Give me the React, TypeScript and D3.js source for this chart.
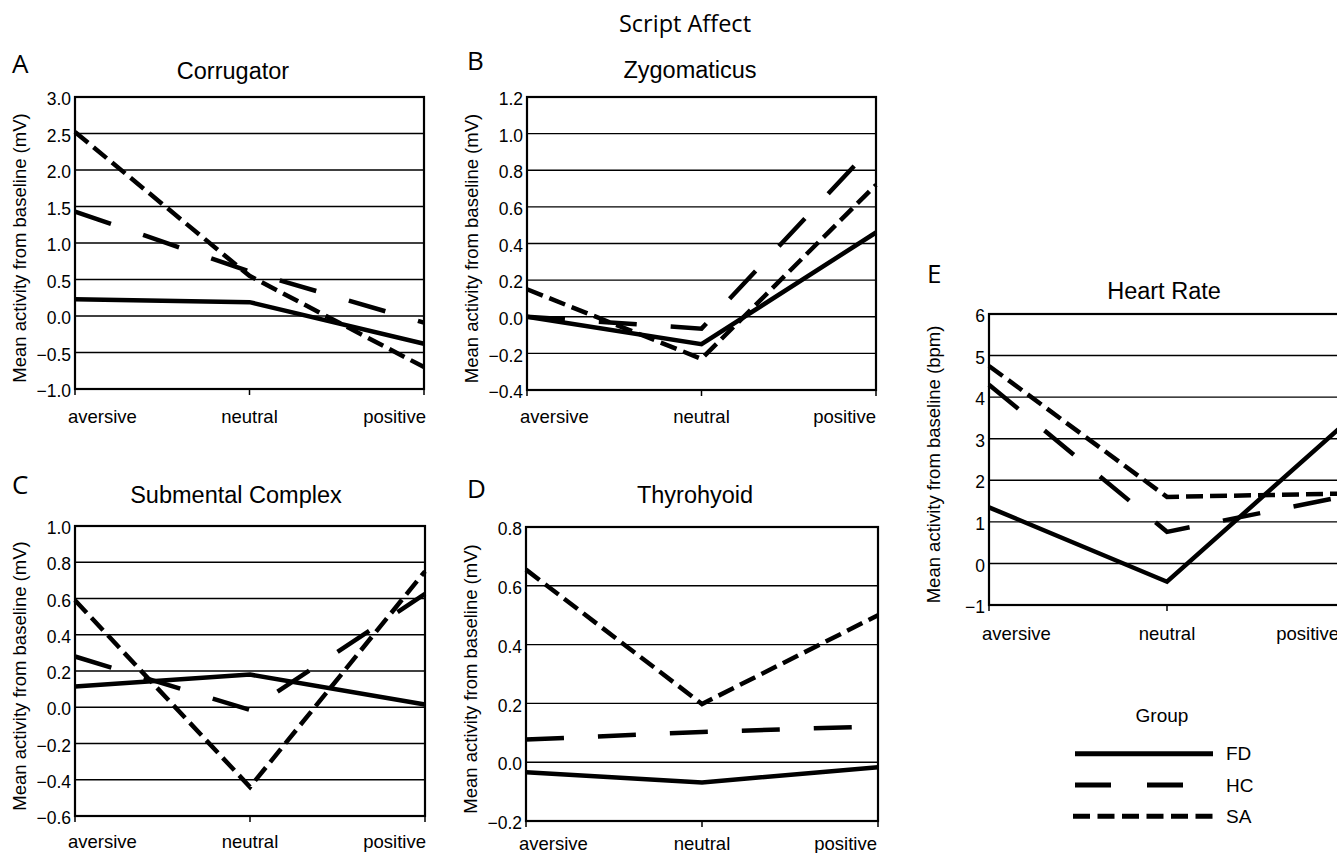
import React from 'react';
import * as d3 from 'd3';

const W = 1337;
const H = 853;

const categories = ['aversive', 'neutral', 'positive'];
const groups = ['FD', 'HC', 'SA'];

// Corrugator (mV)
const corrugatorFD = [0.23, 0.19, -0.38];
const corrugatorHC = [1.43, 0.61, -0.09];
const corrugatorSA = [2.52, 0.55, -0.7];
const corrugatorTicks = [-1, -0.5, 0, 0.5, 1, 1.5, 2, 2.5, 3];

// Zygomaticus (mV)
const zygomaticusFD = [0.0, -0.15, 0.46];
const zygomaticusHC = [0.0, -0.065, 0.95];
const zygomaticusSA = [0.15, -0.23, 0.72];
const zygomaticusTicks = [-0.4, -0.2, 0, 0.2, 0.4, 0.6, 0.8, 1.0, 1.2];

// Submental Complex (mV)
const submentalFD = [0.115, 0.18, 0.015];
const submentalHC = [0.28, -0.015, 0.625];
const submentalSA = [0.59, -0.44, 0.75];
const submentalTicks = [-0.6, -0.4, -0.2, 0, 0.2, 0.4, 0.6, 0.8, 1.0];

// Thyrohyoid (mV)
const thyrohyoidFD = [-0.034, -0.069, -0.017];
const thyrohyoidHC = [0.077, 0.103, 0.122];
const thyrohyoidSA = [0.655, 0.198, 0.5];
const thyrohyoidTicks = [-0.2, 0, 0.2, 0.4, 0.6, 0.8];

// Heart Rate (bpm)
const heartFD = [1.35, -0.44, 3.37];
const heartHC = [4.3, 0.76, 1.62];
const heartSA = [4.75, 1.6, 1.68];
const heartTicks = [-1, 0, 1, 2, 3, 4, 5, 6];

const dash: Record<string, string> = {
  FD: 'none',
  HC: '38,34',
  SA: '17,7',
};

const sansFont = '"Liberation Sans", Arial, sans-serif';
const letterFont = '"Open Sans", sans-serif';

const panels = [
  {
    letter: 'A', title: 'Corrugator', unit: 'mV', fmt: '.1f',
    series: [corrugatorFD, corrugatorHC, corrugatorSA], ticks: corrugatorTicks,
    left: 75, right: 424, top: 97, bottom: 389,
    titleX: 233, titleY: 79, letterX: 12, letterY: 73, labelDy: 34, posPad: 2,
  },
  {
    letter: 'B', title: 'Zygomaticus', unit: 'mV', fmt: '.1f',
    series: [zygomaticusFD, zygomaticusHC, zygomaticusSA], ticks: zygomaticusTicks,
    left: 527, right: 876, top: 97, bottom: 390,
    titleX: 690, titleY: 78, letterX: 467, letterY: 70, labelDy: 33, posPad: 0,
  },
  {
    letter: 'C', title: 'Submental Complex', unit: 'mV', fmt: '.1f',
    series: [submentalFD, submentalHC, submentalSA], ticks: submentalTicks,
    left: 75, right: 425, top: 526, bottom: 816,
    titleX: 236, titleY: 503, letterX: 12, letterY: 494, labelDy: 32, posPad: 1,
  },
  {
    letter: 'D', title: 'Thyrohyoid', unit: 'mV', fmt: '.1f',
    series: [thyrohyoidFD, thyrohyoidHC, thyrohyoidSA], ticks: thyrohyoidTicks,
    left: 526, right: 878, top: 527, bottom: 821,
    titleX: 695, titleY: 503, letterX: 467, letterY: 498, labelDy: 29, posPad: -1,
  },
  {
    letter: 'E', title: 'Heart Rate', unit: 'bpm', fmt: 'd',
    series: [heartFD, heartHC, heartSA], ticks: heartTicks,
    left: 989, right: 1345, top: 314, bottom: 605,
    titleX: 1164, titleY: 299, letterX: 927, letterY: 283, labelDy: 35, posPad: -6,
  },
];

type PanelProps = (typeof panels)[number];

function Panel(p: PanelProps) {
  const x = d3.scalePoint<string>().domain(categories).range([p.left, p.right]);
  const y = d3
    .scaleLinear()
    .domain([p.ticks[0], p.ticks[p.ticks.length - 1]])
    .range([p.bottom, p.top]);
  const fmt = d3.format(p.fmt);
  const line = d3
    .line<number>()
    .x((_, i) => x(categories[i]) as number)
    .y((d) => y(d));
  const midY = (p.top + p.bottom) / 2;

  return (
    <g>
      <text x={p.letterX} y={p.letterY} fontFamily={letterFont} fontSize={26}>
        {p.letter}
      </text>
      <text x={p.titleX} y={p.titleY} textAnchor="middle" fontFamily={sansFont} fontSize={23.5}>
        {p.title}
      </text>

      {/* gridlines */}
      {p.ticks.map((t) => (
        <line key={t} x1={p.left} x2={p.right} y1={y(t)} y2={y(t)} stroke="#000" strokeWidth={1.4} />
      ))}
      {/* frame */}
      <rect x={p.left} y={p.top} width={p.right - p.left} height={p.bottom - p.top} fill="none" stroke="#000" strokeWidth={2.2} />

      {/* y tick labels */}
      {p.ticks.map((t) => (
        <text key={t} x={p.left - 4} y={y(t) + 2} dy="0.35em" textAnchor="end" fontFamily={sansFont} fontSize={17.5}>
          {fmt(t)}
        </text>
      ))}
      <text
        transform={`translate(${p.left - 49},${midY + 5}) rotate(-90)`}
        textAnchor="middle"
        fontFamily={sansFont}
        fontSize={18.5}
      >
        {`Mean activity from baseline (${p.unit})`}
      </text>

      {/* x ticks and labels */}
      {categories.map((c) => (
        <line key={c} x1={x(c)} x2={x(c)} y1={p.bottom} y2={p.bottom + 6} stroke="#000" strokeWidth={1.5} />
      ))}
      {categories.map((c, i) => {
        const anchor = i === 0 ? 'start' : i === 1 ? 'middle' : 'end';
        const tx = i === 0 ? p.left - 7 : i === 1 ? (x(c) as number) : p.right + p.posPad;
        return (
          <text key={c} x={tx} y={p.bottom + p.labelDy} textAnchor={anchor} fontFamily={sansFont} fontSize={18.5}>
            {c}
          </text>
        );
      })}

      {/* series */}
      {p.series.map((s, i) => (
        <path
          key={groups[i]}
          d={line(s) ?? ''}
          fill="none"
          stroke="#000"
          strokeWidth={4.5}
          strokeDasharray={dash[groups[i]]}
          strokeLinejoin="miter"
        />
      ))}
    </g>
  );
}

function Legend() {
  const rows = d3.scaleBand<string>().domain(groups).range([738, 832]);
  return (
    <g>
      <text x={1162} y={722} textAnchor="middle" fontFamily={sansFont} fontSize={19}>
        Group
      </text>
      {groups.map((g) => {
        const cy = (rows(g) as number) + rows.bandwidth() / 2;
        return (
          <g key={g}>
            <line
              x1={g === 'SA' ? 1073 : 1075}
              x2={g === 'HC' ? 1184 : 1213}
              y1={cy}
              y2={cy}
              stroke="#000"
              strokeWidth={5}
              strokeDasharray={g === 'HC' ? '36,36' : g === 'SA' ? '17,7.5' : 'none'}
            />
            <text x={1226} y={cy} dy="0.35em" fontFamily={sansFont} fontSize={19}>
              {g}
            </text>
          </g>
        );
      })}
    </g>
  );
}

export default function App() {
  return (
    <svg
      width={W}
      height={H}
      viewBox={`0 0 ${W} ${H}`}
      style={{ position: 'absolute', left: 0, top: 0, background: '#fff' }}
    >
      <text x={685} y={32} textAnchor="middle" fontFamily={letterFont} fontSize={23.5}>
        Script Affect
      </text>
      {panels.map((p) => (
        <Panel key={p.letter} {...p} />
      ))}
      <Legend />
    </svg>
  );
}
